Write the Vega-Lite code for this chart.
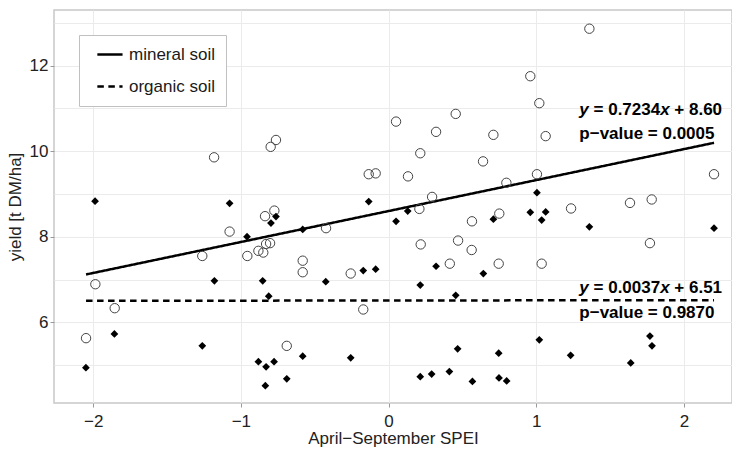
{
  "$schema": "https://vega.github.io/schema/vega-lite/v6.json",
  "width": 678,
  "height": 393,
  "autosize": {"type": "none"},
  "padding": {"left": 54, "top": 10, "right": 0, "bottom": 46},
  "background": "white",
  "config": {
    "font": "Liberation Sans",
    "view": {"stroke": "#c8c8c8", "strokeWidth": 1.5},
    "axis": {
      "labelFont": "Liberation Sans",
      "labelFontSize": 17,
      "labelColor": "#222222",
      "titleFont": "Liberation Sans",
      "titleFontSize": 17,
      "titleFontWeight": "normal",
      "titleColor": "#222222",
      "gridColor": "#ebebeb",
      "gridWidth": 1,
      "tickColor": "#999999",
      "tickSize": 4,
      "tickWidth": 1,
      "domain": false
    }
  },
  "datasets": {
    "pts": [
      {"soil": "mineral soil", "spei": -2.048, "yield": 5.63},
      {"soil": "mineral soil", "spei": -1.985, "yield": 6.89},
      {"soil": "mineral soil", "spei": -1.854, "yield": 6.33},
      {"soil": "mineral soil", "spei": -1.261, "yield": 7.55},
      {"soil": "mineral soil", "spei": -1.181, "yield": 9.855},
      {"soil": "mineral soil", "spei": -1.076, "yield": 8.12},
      {"soil": "mineral soil", "spei": -0.956, "yield": 7.55},
      {"soil": "mineral soil", "spei": -0.881, "yield": 7.67},
      {"soil": "mineral soil", "spei": -0.848, "yield": 7.63},
      {"soil": "mineral soil", "spei": -0.836, "yield": 8.48},
      {"soil": "mineral soil", "spei": -0.829, "yield": 7.83},
      {"soil": "mineral soil", "spei": -0.802, "yield": 7.85},
      {"soil": "mineral soil", "spei": -0.798, "yield": 10.1},
      {"soil": "mineral soil", "spei": -0.773, "yield": 8.61},
      {"soil": "mineral soil", "spei": -0.762, "yield": 10.26},
      {"soil": "mineral soil", "spei": -0.689, "yield": 5.45},
      {"soil": "mineral soil", "spei": -0.581, "yield": 7.44},
      {"soil": "mineral soil", "spei": -0.581, "yield": 7.17},
      {"soil": "mineral soil", "spei": -0.423, "yield": 8.2},
      {"soil": "mineral soil", "spei": -0.256, "yield": 7.14},
      {"soil": "mineral soil", "spei": -0.171, "yield": 6.3},
      {"soil": "mineral soil", "spei": -0.134, "yield": 9.46},
      {"soil": "mineral soil", "spei": -0.087, "yield": 9.48},
      {"soil": "mineral soil", "spei": 0.051, "yield": 10.69},
      {"soil": "mineral soil", "spei": 0.132, "yield": 9.41},
      {"soil": "mineral soil", "spei": 0.209, "yield": 8.65},
      {"soil": "mineral soil", "spei": 0.215, "yield": 9.95},
      {"soil": "mineral soil", "spei": 0.218, "yield": 7.82},
      {"soil": "mineral soil", "spei": 0.295, "yield": 8.93},
      {"soil": "mineral soil", "spei": 0.322, "yield": 10.45},
      {"soil": "mineral soil", "spei": 0.415, "yield": 7.37},
      {"soil": "mineral soil", "spei": 0.455, "yield": 10.87},
      {"soil": "mineral soil", "spei": 0.471, "yield": 7.91},
      {"soil": "mineral soil", "spei": 0.563, "yield": 7.69},
      {"soil": "mineral soil", "spei": 0.565, "yield": 8.36},
      {"soil": "mineral soil", "spei": 0.64, "yield": 9.76},
      {"soil": "mineral soil", "spei": 0.71, "yield": 10.38},
      {"soil": "mineral soil", "spei": 0.746, "yield": 7.37},
      {"soil": "mineral soil", "spei": 0.75, "yield": 8.54},
      {"soil": "mineral soil", "spei": 0.798, "yield": 9.26},
      {"soil": "mineral soil", "spei": 0.96, "yield": 11.75},
      {"soil": "mineral soil", "spei": 1.005, "yield": 9.46},
      {"soil": "mineral soil", "spei": 1.021, "yield": 11.12},
      {"soil": "mineral soil", "spei": 1.037, "yield": 7.37},
      {"soil": "mineral soil", "spei": 1.064, "yield": 10.35},
      {"soil": "mineral soil", "spei": 1.236, "yield": 8.66},
      {"soil": "mineral soil", "spei": 1.36, "yield": 12.86},
      {"soil": "mineral soil", "spei": 1.635, "yield": 8.79},
      {"soil": "mineral soil", "spei": 1.77, "yield": 7.85},
      {"soil": "mineral soil", "spei": 1.782, "yield": 8.87},
      {"soil": "mineral soil", "spei": 2.204, "yield": 9.46},
      {"soil": "organic soil", "spei": -2.049, "yield": 4.94},
      {"soil": "organic soil", "spei": -1.987, "yield": 8.83},
      {"soil": "organic soil", "spei": -1.856, "yield": 5.73},
      {"soil": "organic soil", "spei": -1.261, "yield": 5.45},
      {"soil": "organic soil", "spei": -1.179, "yield": 6.97},
      {"soil": "organic soil", "spei": -1.076, "yield": 8.78},
      {"soil": "organic soil", "spei": -0.958, "yield": 8.0},
      {"soil": "organic soil", "spei": -0.881, "yield": 5.08},
      {"soil": "organic soil", "spei": -0.852, "yield": 6.97},
      {"soil": "organic soil", "spei": -0.834, "yield": 4.52},
      {"soil": "organic soil", "spei": -0.829, "yield": 4.96},
      {"soil": "organic soil", "spei": -0.811, "yield": 6.61},
      {"soil": "organic soil", "spei": -0.796, "yield": 8.32},
      {"soil": "organic soil", "spei": -0.775, "yield": 5.08},
      {"soil": "organic soil", "spei": -0.762, "yield": 8.47},
      {"soil": "organic soil", "spei": -0.689, "yield": 4.68},
      {"soil": "organic soil", "spei": -0.581, "yield": 8.17},
      {"soil": "organic soil", "spei": -0.581, "yield": 5.21},
      {"soil": "organic soil", "spei": -0.425, "yield": 6.95},
      {"soil": "organic soil", "spei": -0.256, "yield": 5.17},
      {"soil": "organic soil", "spei": -0.171, "yield": 7.21},
      {"soil": "organic soil", "spei": -0.134, "yield": 8.82},
      {"soil": "organic soil", "spei": -0.087, "yield": 7.24},
      {"soil": "organic soil", "spei": 0.051, "yield": 8.36},
      {"soil": "organic soil", "spei": 0.13, "yield": 8.6},
      {"soil": "organic soil", "spei": 0.215, "yield": 6.87},
      {"soil": "organic soil", "spei": 0.215, "yield": 4.73},
      {"soil": "organic soil", "spei": 0.292, "yield": 4.79},
      {"soil": "organic soil", "spei": 0.322, "yield": 7.31},
      {"soil": "organic soil", "spei": 0.412, "yield": 4.85},
      {"soil": "organic soil", "spei": 0.455, "yield": 6.63},
      {"soil": "organic soil", "spei": 0.468, "yield": 5.38},
      {"soil": "organic soil", "spei": 0.568, "yield": 4.62},
      {"soil": "organic soil", "spei": 0.642, "yield": 7.14},
      {"soil": "organic soil", "spei": 0.71, "yield": 8.41},
      {"soil": "organic soil", "spei": 0.746, "yield": 5.28},
      {"soil": "organic soil", "spei": 0.748, "yield": 4.7},
      {"soil": "organic soil", "spei": 0.8, "yield": 4.63},
      {"soil": "organic soil", "spei": 0.96, "yield": 8.57},
      {"soil": "organic soil", "spei": 1.005, "yield": 9.03},
      {"soil": "organic soil", "spei": 1.021, "yield": 5.59},
      {"soil": "organic soil", "spei": 1.037, "yield": 8.39},
      {"soil": "organic soil", "spei": 1.064, "yield": 8.58},
      {"soil": "organic soil", "spei": 1.233, "yield": 5.23},
      {"soil": "organic soil", "spei": 1.36, "yield": 8.23},
      {"soil": "organic soil", "spei": 1.64, "yield": 5.05},
      {"soil": "organic soil", "spei": 1.77, "yield": 5.68},
      {"soil": "organic soil", "spei": 1.784, "yield": 5.45},
      {"soil": "organic soil", "spei": 2.204, "yield": 8.2}
    ],
    "fits": [
      {"soil": "mineral soil", "spei": -2.048, "yield": 7.118},
      {"soil": "mineral soil", "spei": 2.204, "yield": 10.194},
      {"soil": "organic soil", "spei": -2.048, "yield": 6.502},
      {"soil": "organic soil", "spei": 2.204, "yield": 6.518}
    ],
    "eqs": [
      {"soil": "mineral soil", "spei": 1.292, "yield": 10.843, "a": "= 0.7234", "b": "+ 8.60"},
      {"soil": "organic soil", "spei": 1.292, "yield": 6.685, "a": "= 0.0037", "b": "+ 6.51"}
    ],
    "pvals": [
      {"soil": "mineral soil", "spei": 1.292, "yield": 10.283, "p": "p−value = 0.0005"},
      {"soil": "organic soil", "spei": 1.292, "yield": 6.1, "p": "p−value = 0.9870"}
    ]
  },
  "layer": [
    {
      "data": {"name": "fits"},
      "mark": {"type": "line", "color": "black", "strokeWidth": 2.5},
      "encoding": {
        "x": {
          "field": "spei", "type": "quantitative",
          "scale": {"domain": [-2.265, 2.3257], "nice": false, "zero": false},
          "axis": {
            "values": [-2, -1.5, -1, -0.5, 0, 0.5, 1, 1.5, 2],
            "format": "d",
            "labelExpr": "datum.value % 1 === 0 ? datum.label : ''",
            "tickOpacity": {"condition": {"test": "datum.value % 1 !== 0", "value": 0}, "value": 1},
            "labelPadding": 6,
            "titlePadding": 1,
            "title": "April−September SPEI"
          }
        },
        "y": {
          "field": "yield", "type": "quantitative",
          "scale": {"domain": [4.115, 13.297], "nice": false, "zero": false},
          "axis": {
            "values": [5, 6, 7, 8, 9, 10, 11, 12, 13],
            "format": "d",
            "labelExpr": "datum.value % 2 === 0 ? datum.label : ''",
            "tickOpacity": {"condition": {"test": "datum.value % 2 !== 0", "value": 0}, "value": 1},
            "labelPadding": 2,
            "titlePadding": 5,
            "title": "yield [t DM/ha]"
          }
        },
        "strokeDash": {
          "field": "soil", "type": "nominal",
          "scale": {"domain": ["mineral soil", "organic soil"], "range": [[1, 0], [6.5, 4.5]]},
          "legend": {
            "orient": "top-left",
            "offset": 25,
            "title": null,
            "labelFont": "Liberation Sans",
            "labelFontSize": 17,
            "labelColor": "#1a1a1a",
            "fillColor": "white",
            "strokeColor": "#c0c0c0",
            "padding": 11,
            "rowPadding": 14,
            "symbolSize": 81,
            "symbolType": "M-0.7,0H4.9",
            "symbolStrokeWidth": 2.5,
            "symbolStrokeColor": "black",
            "symbolOffset": 2,
            "labelOffset": 20
          }
        }
      }
    },
    {
      "data": {"name": "pts"},
      "transform": [{"filter": "datum.soil === 'mineral soil'"}],
      "mark": {"type": "point", "shape": "circle", "filled": false, "stroke": "#444444", "strokeWidth": 1, "size": 88, "opacity": 1},
      "encoding": {
        "x": {"field": "spei", "type": "quantitative"},
        "y": {"field": "yield", "type": "quantitative"}
      }
    },
    {
      "data": {"name": "pts"},
      "transform": [{"filter": "datum.soil === 'organic soil'"}],
      "mark": {"type": "point", "shape": "diamond", "filled": true, "color": "black", "size": 60, "opacity": 1},
      "encoding": {
        "x": {"field": "spei", "type": "quantitative"},
        "y": {"field": "yield", "type": "quantitative"}
      }
    },
    {
      "data": {"name": "eqs"},
      "mark": {"type": "text", "align": "left", "baseline": "alphabetic", "fontSize": 17, "fontWeight": "bold", "fontStyle": "italic", "color": "black", "text": "y", "dx": 0},
      "encoding": {
        "x": {"field": "spei", "type": "quantitative"},
        "y": {"field": "yield", "type": "quantitative"}
      }
    },
    {
      "data": {"name": "eqs"},
      "mark": {"type": "text", "align": "left", "baseline": "alphabetic", "fontSize": 17, "fontWeight": "bold", "color": "black", "dx": 14.2},
      "encoding": {
        "x": {"field": "spei", "type": "quantitative"},
        "y": {"field": "yield", "type": "quantitative"},
        "text": {"field": "a", "type": "nominal"}
      }
    },
    {
      "data": {"name": "eqs"},
      "mark": {"type": "text", "align": "left", "baseline": "alphabetic", "fontSize": 17, "fontWeight": "bold", "fontStyle": "italic", "color": "black", "text": "x", "dx": 80.8},
      "encoding": {
        "x": {"field": "spei", "type": "quantitative"},
        "y": {"field": "yield", "type": "quantitative"}
      }
    },
    {
      "data": {"name": "eqs"},
      "mark": {"type": "text", "align": "left", "baseline": "alphabetic", "fontSize": 17, "fontWeight": "bold", "color": "black", "dx": 95.0},
      "encoding": {
        "x": {"field": "spei", "type": "quantitative"},
        "y": {"field": "yield", "type": "quantitative"},
        "text": {"field": "b", "type": "nominal"}
      }
    },
    {
      "data": {"name": "pvals"},
      "mark": {"type": "text", "align": "left", "baseline": "alphabetic", "fontSize": 17, "fontWeight": "bold", "color": "black"},
      "encoding": {
        "x": {"field": "spei", "type": "quantitative"},
        "y": {"field": "yield", "type": "quantitative"},
        "text": {"field": "p", "type": "nominal"}
      }
    }
  ]
}
